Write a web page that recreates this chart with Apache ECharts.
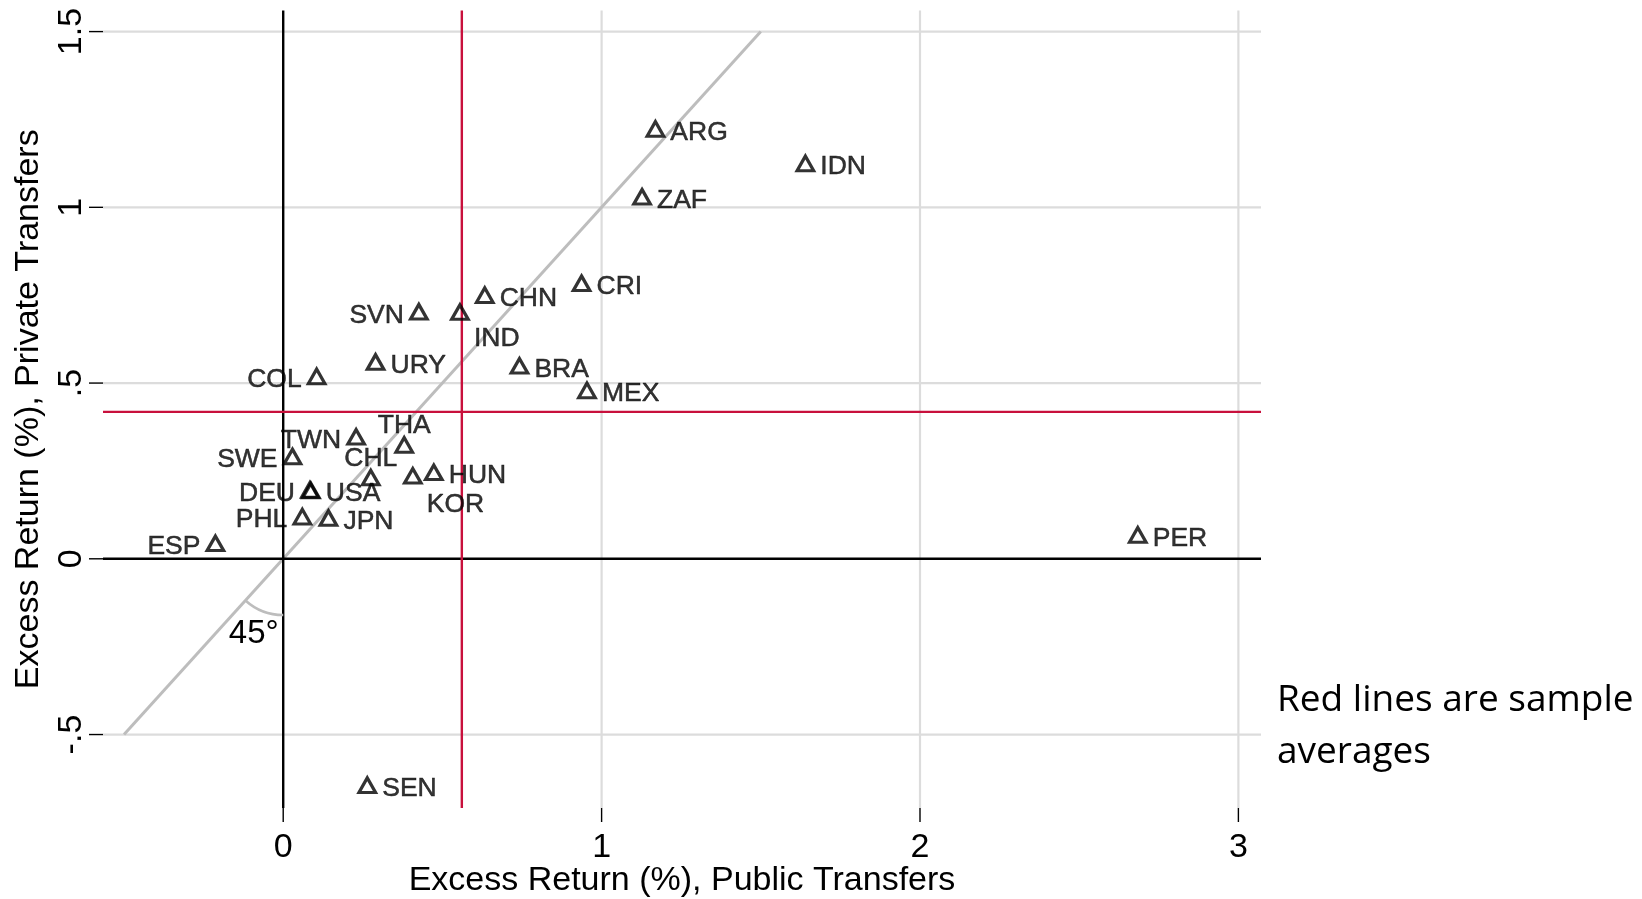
<!DOCTYPE html>
<html><head><meta charset="utf-8">
<script src="https://cdn.jsdelivr.net/npm/echarts@6/dist/echarts.min.js"></script>
<style>html,body{margin:0;padding:0;background:#fff}#c{width:1642px;height:899px}</style>
</head><body><div id="c"></div>
<script>
// ---- data ----
const countries = ['ARG','IDN','ZAF','CRI','CHN','IND','SVN','URY','BRA','MEX','COL','THA','TWN','SWE','CHL','HUN','KOR','DEU','USA','PHL','JPN','ESP','SEN','PER'];
const publicReturn  = [1.169,1.640,1.127,0.937,0.633,0.555,0.426,0.290,0.742,0.954,0.105,0.380,0.229,0.029,0.275,0.473,0.407,0.084,0.087,0.060,0.142,-0.213,0.264,2.684];
const privateReturn = [1.223,1.125,1.030,0.784,0.750,0.702,0.703,0.560,0.549,0.479,0.519,0.324,0.347,0.291,0.231,0.246,0.236,0.196,0.194,0.120,0.116,0.044,-0.644,0.068];
const avgPublic = [0.561];
const avgPrivate = [0.418];
const xTicks = [0, 1, 2, 3];
const xTickLabels = ['0', '1', '2', '3'];
const yTicks = [-0.5, 0, 0.5, 1, 1.5];
const yTickLabels = ['-.5', '0', '.5', '1', '1.5'];
const xGrid = [1, 2, 3];
const yGrid = [-0.5, 0.5, 1, 1.5];
const zeroLine = [0];
const diagonal = [[-0.5, -0.5], [1.5, 1.5]];
const angleLabel = '45°';
const xTitle = 'Excess Return (%), Public Transfers';
const yTitle = 'Excess Return (%), Private Transfers';
const noteText = 'Red lines are sample\naverages';

// ---- layout / style ----
const X_MIN = -0.566, X_MAX = 3.071, Y_MIN = -0.709, Y_MAX = 1.560;
const ARC_R = 0.16;                 // arc radius in data units
const ANGLE_LABEL_POS = [-0.014, -0.215];
const labelPlace = {
  SVN: {position: 'left'}, COL: {position: 'left'}, TWN: {position: 'left'},
  SWE: {position: 'left'}, DEU: {position: 'left'}, PHL: {position: 'left'},
  ESP: {position: 'left'},
  THA: {position: 'top', distance: 3, offset: [0, 6]}, CHL: {position: 'top', distance: 3, offset: [0, 6]},
  IND: {position: 'right', offset: [-1, 27]}, KOR: {position: 'right', offset: [-1, 28.5]}
};
const FONT = 'Liberation Sans';
const AXFS = 34;

function vLines(vals, color, width, z) {
  return {
    type: 'custom', silent: true, z: z, clip: false,
    data: vals.map(v => [v, 0]),
    renderItem(params, api) {
      const a = api.coord([api.value(0), Y_MAX]);
      const b = api.coord([api.value(0), Y_MIN]);
      return {type: 'line', shape: {x1: a[0], y1: a[1], x2: b[0], y2: b[1]},
              style: {stroke: color, lineWidth: width}};
    }
  };
}
function hLines(vals, color, width, z) {
  return {
    type: 'custom', silent: true, z: z, clip: false,
    data: vals.map(v => [0, v]),
    renderItem(params, api) {
      const a = api.coord([X_MIN, api.value(1)]);
      const b = api.coord([X_MAX, api.value(1)]);
      return {type: 'line', shape: {x1: a[0], y1: a[1], x2: b[0], y2: b[1]},
              style: {stroke: color, lineWidth: width}};
    }
  };
}

const chart = echarts.init(document.getElementById('c'));
const option = {
  animation: false,
  backgroundColor: '#fff',
  grid: {left: 103, top: 10.5, width: 1158, height: 797.5, containLabel: false, outerBoundsMode: 'none'},
  xAxis: {
    type: 'value', min: X_MIN, max: X_MAX,
    axisLine: {show: false, onZero: false}, axisTick: {show: false},
    axisLabel: {show: false}, splitLine: {show: false},
    name: xTitle, nameLocation: 'middle', nameGap: 58,
    nameTextStyle: {fontFamily: FONT, fontSize: AXFS, color: '#000', lineHeight: 30}
  },
  yAxis: {
    type: 'value', min: Y_MIN, max: Y_MAX,
    axisLine: {show: false, onZero: false}, axisTick: {show: false},
    axisLabel: {show: false}, splitLine: {show: false},
    name: yTitle, nameLocation: 'middle', nameGap: 59, nameRotate: 90,
    nameTextStyle: {fontFamily: FONT, fontSize: AXFS, color: '#000', lineHeight: 30}
  },
  graphic: [{
    type: 'text', left: 1277, top: 674,
    style: {text: noteText, fontFamily: 'Open Sans', fontSize: 37, lineHeight: 52, fill: '#000'}
  }],
  series: [
    vLines(xGrid, '#dcdcdc', 2.2, 1),
    hLines(yGrid, '#dcdcdc', 2.2, 1),
    {
      type: 'line', data: diagonal, symbol: 'none', silent: true, z: 2,
      lineStyle: {color: '#bdbdbd', width: 3}
    },
    vLines(zeroLine, '#000', 2.4, 3),
    hLines(zeroLine, '#000', 2.4, 3),
    vLines(avgPublic, '#c8103c', 2.4, 4),
    hLines(avgPrivate, '#c8103c', 2.4, 4),
    { // x ticks + labels
      type: 'custom', silent: true, clip: false, z: 5,
      data: xTicks.map(v => [v, 0]),
      renderItem(params, api) {
        const p = api.coord([api.value(0), Y_MIN]);
        return {type: 'group', children: [
          {type: 'line', shape: {x1: p[0], y1: p[1], x2: p[0], y2: p[1] + 14},
           style: {stroke: '#000', lineWidth: 1.4}},
          {type: 'text', x: p[0], y: p[1] + 40,
           style: {text: xTickLabels[params.dataIndex], fontFamily: FONT, fontSize: AXFS,
                   fill: '#000', align: 'center', verticalAlign: 'middle'}}
        ]};
      }
    },
    { // y ticks + labels
      type: 'custom', silent: true, clip: false, z: 5,
      data: yTicks.map(v => [0, v]),
      renderItem(params, api) {
        const p = api.coord([X_MIN, api.value(1)]);
        return {type: 'group', children: [
          {type: 'line', shape: {x1: p[0] - 14, y1: p[1], x2: p[0], y2: p[1]},
           style: {stroke: '#000', lineWidth: 1.4}},
          {type: 'text', x: p[0] - 31, y: p[1], rotation: Math.PI / 2,
           style: {text: yTickLabels[params.dataIndex], fontFamily: FONT, fontSize: AXFS,
                   fill: '#000', align: 'center', verticalAlign: 'middle'}}
        ]};
      }
    },
    { // 45 degree arc and label
      type: 'custom', silent: true, clip: false, z: 5,
      data: [[0, 0]],
      renderItem(params, api) {
        const c = api.coord([api.value(0), api.value(1)]);
        const d = api.coord([diagonal[0][0], diagonal[0][1]]);
        const r = api.size([0, ARC_R])[1];
        const end = Math.atan2(d[1] - c[1], d[0] - c[0]);
        const t = api.coord(ANGLE_LABEL_POS);
        return {type: 'group', children: [
          {type: 'arc', shape: {cx: c[0], cy: c[1], r: r, startAngle: Math.PI / 2, endAngle: end, clockwise: true},
           style: {stroke: '#bdbdbd', lineWidth: 2.5, fill: null}},
          {type: 'text', x: t[0], y: t[1],
           style: {text: angleLabel, fontFamily: FONT, fontSize: 33, fill: '#000',
                   align: 'right', verticalAlign: 'middle'}}
        ]};
      }
    },
    {
      type: 'scatter', z: 10, symbol: 'triangle', symbolSize: [16.5, 14.5],
      itemStyle: {color: 'rgba(0,0,0,0)', borderColor: '#000', borderWidth: 3.2},
      label: {show: true, formatter: '{b}', position: 'right', distance: 5, offset: [0, 3.5],
              fontFamily: FONT, fontSize: 26.5, color: '#000',
              textBorderColor: '#000', textBorderWidth: 0.5},
      emphasis: {disabled: true},
      data: countries.map((c, i) => ({
        name: c, value: [publicReturn[i], privateReturn[i]],
        label: labelPlace[c] || {}
      }))
    }
  ]
};
chart.setOption(option);
</script>
</body></html>
